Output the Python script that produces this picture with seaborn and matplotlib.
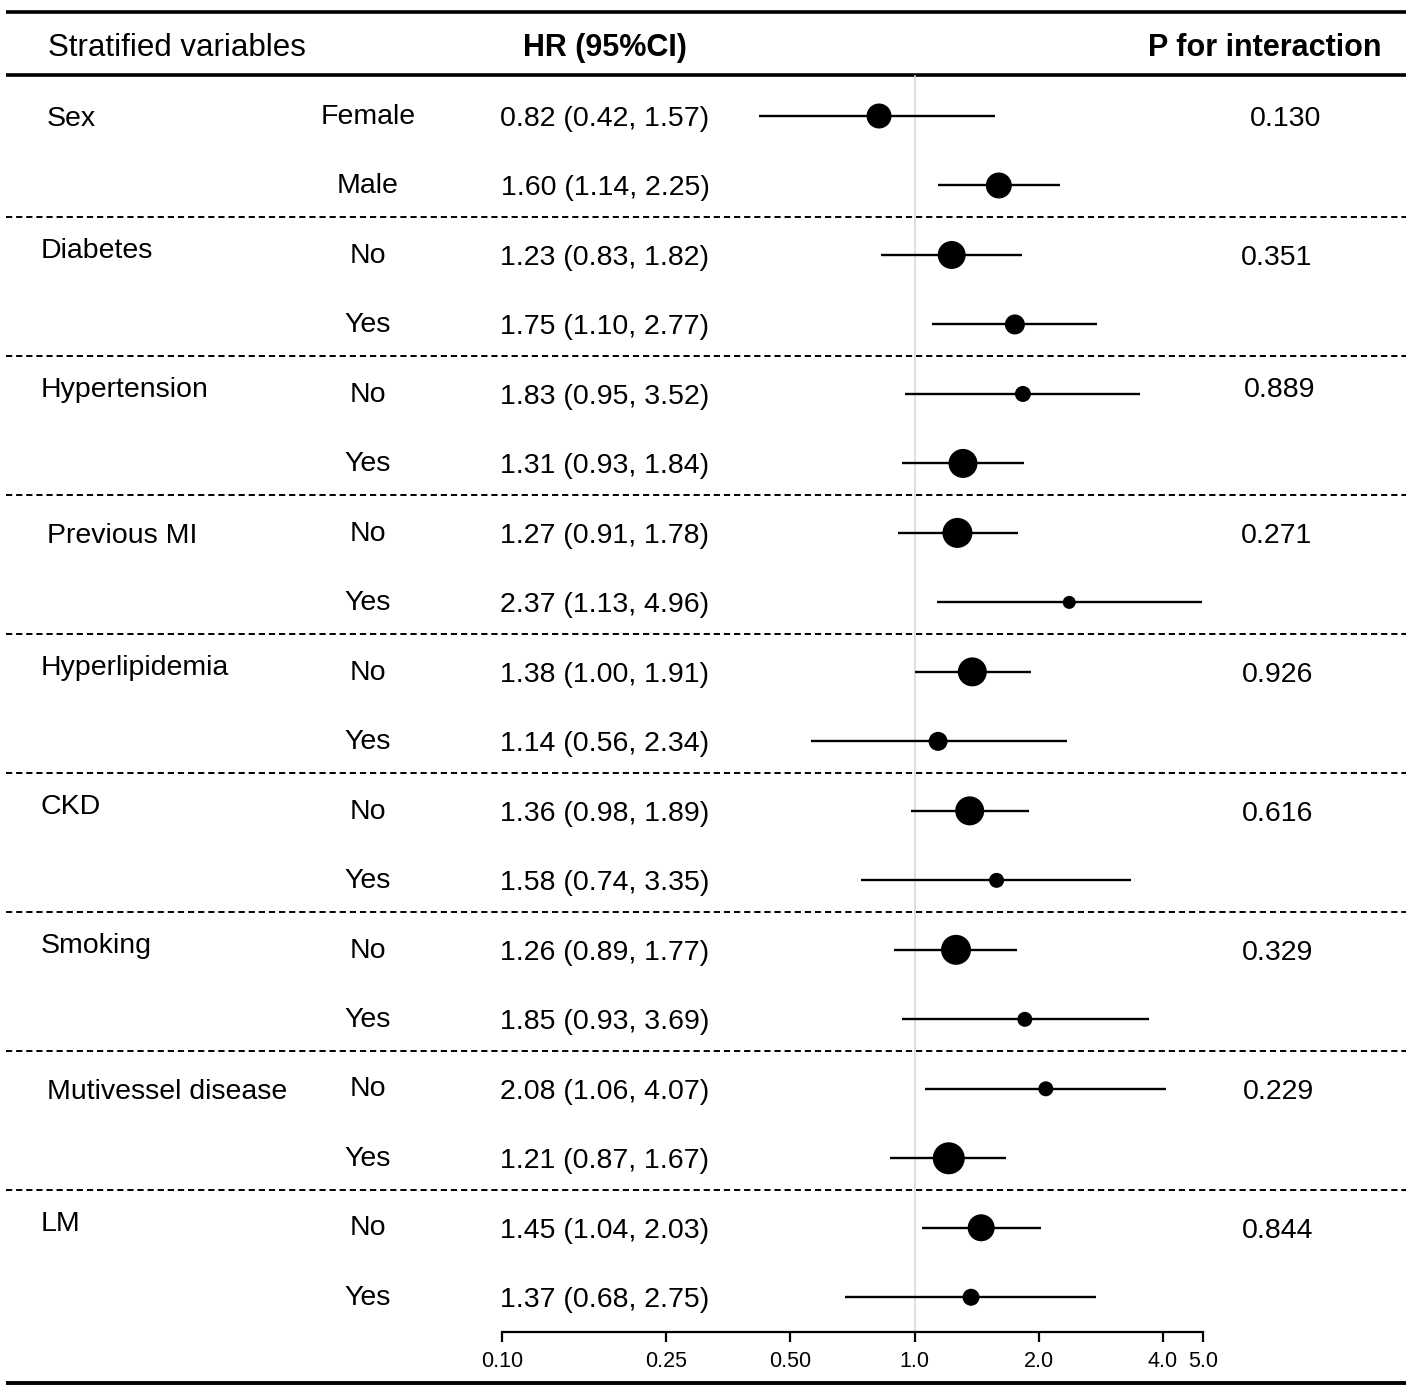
import seaborn as sns
import pandas as pd
import matplotlib.pyplot as plt
from matplotlib import transforms

# data
groups = ['Sex', 'Diabetes', 'Hypertension', 'Previous MI', 'Hyperlipidemia',
          'CKD', 'Smoking', 'Mutivessel disease', 'LM']
subgroups = ['Female', 'Male', 'No', 'Yes', 'No', 'Yes', 'No', 'Yes', 'No', 'Yes',
             'No', 'Yes', 'No', 'Yes', 'No', 'Yes', 'No', 'Yes']
hr = [0.82, 1.60, 1.23, 1.75, 1.83, 1.31, 1.27, 2.37, 1.38, 1.14,
      1.36, 1.58, 1.26, 1.85, 2.08, 1.21, 1.45, 1.37]
ci_low = [0.42, 1.14, 0.83, 1.10, 0.95, 0.93, 0.91, 1.13, 1.00, 0.56,
          0.98, 0.74, 0.89, 0.93, 1.06, 0.87, 1.04, 0.68]
ci_high = [1.57, 2.25, 1.82, 2.77, 3.52, 1.84, 1.78, 4.96, 1.91, 2.34,
           1.89, 3.35, 1.77, 3.69, 4.07, 1.67, 2.03, 2.75]
# box weight shown as marker diameter
weight = [25, 26, 28, 20, 16, 29, 30, 13, 29, 19, 29, 15, 30, 15, 15, 32, 27, 17]
p_interaction = ['0.130', '0.351', '0.889', '0.271', '0.926', '0.616', '0.329', '0.229', '0.844']
xticks = [0.1, 0.25, 0.5, 1, 2, 4, 5]
xtick_labels = ['0.10', '0.25', '0.50', '1.0', '2.0', '4.0', '5.0']

df = pd.DataFrame({'subgroup': subgroups, 'hr': hr, 'low': ci_low, 'high': ci_high,
                   'weight': weight})
df['row'] = range(len(df))
df['area'] = (df['weight'] * 0.72) ** 2

sns.set_theme(style='white')
plt.rcParams['font.family'] = ['Liberation Sans', 'DejaVu Sans']
plt.rcParams['text.color'] = 'black'
plt.rcParams['xtick.color'] = 'black'

W, H = 1417, 1392
fig = plt.figure(figsize=(W / 100, H / 100), dpi=100)

# background axes in pixel coordinates for the table part
bg = fig.add_axes([0, 0, 1, 1])
bg.set_xlim(0, W)
bg.set_ylim(H, 0)
bg.axis('off')

# forest axes
ax = fig.add_axes([502 / W, 1 - 1332 / H, 701 / W, (1332 - 75) / H])
ax.set_xscale('log')
ax.set_xlim(0.1, 5)
ax.set_ylim(17.5, -0.59)

ax.axvline(1, color='#d4d4d4', lw=1.1, zorder=0)
ax.hlines(df['row'], df['low'], df['high'], color='black', lw=1.7, zorder=2)
sns.scatterplot(data=df, x='hr', y='row', size='area',
                sizes=(df['area'].min(), df['area'].max()),
                size_norm=(df['area'].min(), df['area'].max()),
                color='black', linewidth=0, legend=False, ax=ax, zorder=3)

ax.set_xticks(xticks)
ax.set_xticklabels(xtick_labels, fontsize=15.5)
ax.minorticks_off()
ax.set_yticks([])
ax.set_xlabel('')
ax.set_ylabel('')
for s in ['top', 'left', 'right']:
    ax.spines[s].set_visible(False)
ax.spines['bottom'].set_linewidth(1.6)
ax.spines['bottom'].set_color('black')
ax.tick_params(axis='x', direction='out', length=7, width=1.6, color='black',
               labelcolor='black', pad=7, bottom=True)
ax.patch.set_alpha(0)

# x in pixels, y in row units
blend = transforms.blended_transform_factory(bg.transData, ax.transData)

# header
bg.text(48, 48, 'Stratified variables', fontsize=22.5, ha='left', va='center')
bg.text(605, 48, 'HR (95%CI)', fontsize=22, fontweight='bold', ha='center', va='center')
bg.text(1382, 48, 'P for interaction', fontsize=22, fontweight='bold', ha='right', va='center')
bg.hlines([12, 75], 6, 1406, color='black', lw=2.6)
bg.hlines([1383], 6, 1406, color='black', lw=2.8)

# rows
dy = 0.04
for r in df.itertuples():
    bg.text(368, r.row - 0.03 + dy, r.subgroup, fontsize=20.5, ha='center', va='center',
            transform=blend)
    bg.text(605, r.row + dy, f'{r.hr:.2f} ({r.low:.2f}, {r.high:.2f})', fontsize=20.5,
            ha='center', va='center', transform=blend)

group_x = [47, 41, 41, 47, 41, 41, 41, 47, 41]
group_dy = [0, -0.1, -0.09, 0, -0.09, -0.1, -0.1, 0, -0.1]
p_x = [1286, 1277, 1280, 1277, 1278, 1278, 1278, 1278, 1278]
p_dy = [0, 0, -0.09, 0, 0, 0, 0, 0, 0]
for i, g in enumerate(groups):
    bg.text(group_x[i], 2 * i + group_dy[i] + dy, g, fontsize=20.5, ha='left', va='center',
            transform=blend)
    bg.text(p_x[i], 2 * i + p_dy[i] + dy, p_interaction[i], fontsize=20.5, ha='center',
            va='center', transform=blend)
    if i < len(groups) - 1:
        bg.plot([6, 1406], [2 * i + 1.46] * 2, color='black', lw=1.4,
                ls=(0, (3.2, 2)), transform=blend)

plt.savefig('out.png', dpi=100)
